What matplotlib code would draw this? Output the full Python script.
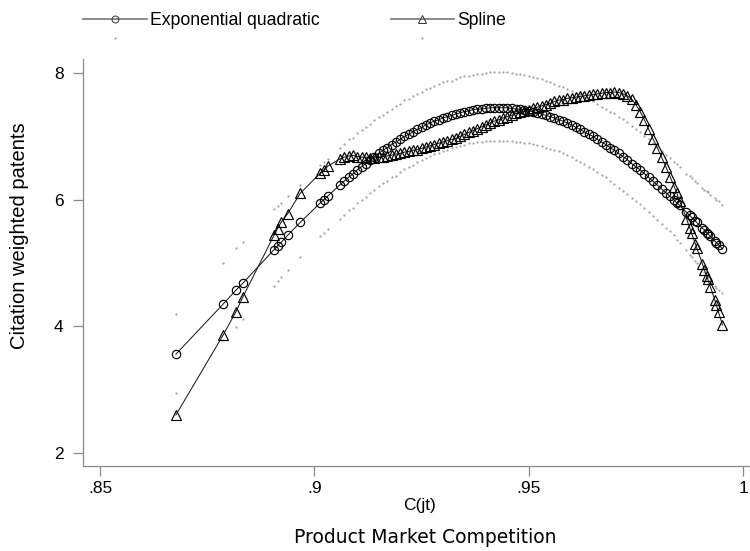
import numpy as np
import matplotlib.pyplot as plt
from matplotlib.lines import Line2D

# product market competition C(jt) at each observation
c_jt = [0.8677, 0.8787, 0.8817, 0.8833, 0.8906, 0.8914, 0.8923, 0.8938,
        0.8967, 0.9014, 0.9022, 0.9032, 0.9059, 0.9069, 0.9081, 0.9089,
        0.910, 0.911, 0.912, 0.913, 0.914, 0.915, 0.916, 0.917, 0.918, 0.919,
        0.920, 0.921, 0.922, 0.923, 0.924, 0.925, 0.926, 0.927, 0.928, 0.929,
        0.930, 0.931, 0.932, 0.933, 0.934, 0.935, 0.936, 0.937, 0.938, 0.939,
        0.940, 0.941, 0.942, 0.943, 0.944, 0.945, 0.946, 0.947, 0.948, 0.949,
        0.950, 0.951, 0.952, 0.953, 0.954, 0.955, 0.956, 0.957, 0.958, 0.959,
        0.960, 0.961, 0.962, 0.963, 0.964, 0.965, 0.966, 0.967, 0.968, 0.969,
        0.970, 0.971, 0.972, 0.973, 0.974, 0.975, 0.976, 0.977, 0.978, 0.979,
        0.980, 0.981, 0.982, 0.983, 0.984,
        0.9845, 0.9852, 0.9868, 0.9876, 0.9880, 0.9889, 0.9892, 0.9905,
        0.9910, 0.9915, 0.9918, 0.9924, 0.9934, 0.9938, 0.9943, 0.9952]

# fitted citation weighted patents, exponential quadratic
exp_quad = [3.56, 4.35, 4.57, 4.68, 5.21, 5.27, 5.33, 5.44,
            5.64, 5.95, 6.00, 6.06, 6.23, 6.29, 6.36, 6.40,
            6.47, 6.52, 6.57, 6.63, 6.68, 6.73, 6.78, 6.82, 6.87, 6.91,
            6.95, 7.00, 7.03, 7.07, 7.11, 7.14, 7.18, 7.21, 7.24, 7.26,
            7.29, 7.31, 7.33, 7.35, 7.37, 7.39, 7.40, 7.42, 7.43, 7.43,
            7.44, 7.45, 7.45, 7.45, 7.45, 7.45, 7.44, 7.43, 7.43, 7.42,
            7.40, 7.39, 7.37, 7.35, 7.33, 7.31, 7.29, 7.26, 7.24, 7.21,
            7.18, 7.14, 7.11, 7.07, 7.03, 7.00, 6.95, 6.91, 6.87, 6.82,
            6.78, 6.73, 6.68, 6.63, 6.57, 6.52, 6.47, 6.41, 6.35, 6.29,
            6.23, 6.17, 6.11, 6.05, 5.99,
            5.95, 5.91, 5.80, 5.75, 5.72, 5.66, 5.64, 5.55,
            5.52, 5.48, 5.46, 5.42, 5.35, 5.32, 5.29, 5.22]

# fitted values, spline
spline = [2.60, 3.86, 4.23, 4.46, 5.44, 5.54, 5.65, 5.78,
          6.10, 6.42, 6.46, 6.53, 6.64, 6.67, 6.69, 6.70,
          6.68, 6.67, 6.67, 6.66, 6.66, 6.67, 6.68, 6.69, 6.70, 6.72,
          6.73, 6.75, 6.76, 6.78, 6.79, 6.81, 6.83, 6.85, 6.87, 6.89,
          6.91, 6.93, 6.95, 6.97, 7.00, 7.03, 7.06, 7.09, 7.12, 7.15,
          7.18, 7.21, 7.24, 7.26, 7.29, 7.31, 7.33, 7.36, 7.38, 7.40,
          7.42, 7.44, 7.46, 7.48, 7.50, 7.52, 7.55, 7.57, 7.58, 7.60,
          7.61, 7.62, 7.63, 7.64, 7.65, 7.66, 7.67, 7.68, 7.69, 7.69,
          7.70, 7.69, 7.67, 7.64, 7.59, 7.50, 7.39, 7.26, 7.11, 6.96,
          6.82, 6.67, 6.52, 6.36, 6.20,
          6.11, 5.98, 5.70, 5.55, 5.47, 5.30, 5.24, 4.99,
          4.89, 4.80, 4.74, 4.62, 4.42, 4.33, 4.22, 4.02]

# 95% band around the exponential quadratic fit
ci_upper = [4.19, 5.00, 5.23, 5.33, 5.85, 5.90, 5.95, 6.05,
            6.23, 6.54, 6.59, 6.64, 6.82, 6.88, 6.95, 6.98,
            7.05, 7.10, 7.15, 7.20, 7.25, 7.30, 7.34, 7.39, 7.43, 7.48,
            7.51, 7.57, 7.59, 7.64, 7.67, 7.70, 7.74, 7.77, 7.80, 7.82,
            7.85, 7.87, 7.88, 7.91, 7.93, 7.95, 7.95, 7.97, 7.99, 7.99,
            8.00, 8.01, 8.01, 8.01, 8.01, 8.01, 8.00, 7.99, 7.99, 7.97,
            7.95, 7.94, 7.92, 7.90, 7.88, 7.86, 7.83, 7.80, 7.78, 7.75,
            7.72, 7.69, 7.66, 7.62, 7.59, 7.56, 7.51, 7.47, 7.43, 7.39,
            7.36, 7.31, 7.27, 7.22, 7.16, 7.11, 7.06, 7.01, 6.95, 6.89,
            6.83, 6.77, 6.71, 6.65, 6.59,
            6.56, 6.52, 6.41, 6.37, 6.34, 6.29, 6.27, 6.19,
            6.16, 6.13, 6.12, 6.08, 6.02, 6.00, 5.98, 5.92]

ci_lower = [2.94, 3.78, 3.99, 4.11, 4.64, 4.71, 4.78, 4.89,
            5.10, 5.42, 5.47, 5.53, 5.69, 5.75, 5.83, 5.87,
            5.94, 5.99, 6.04, 6.10, 6.15, 6.21, 6.26, 6.30, 6.35, 6.38,
            6.43, 6.48, 6.51, 6.55, 6.59, 6.62, 6.66, 6.69, 6.72, 6.74,
            6.77, 6.79, 6.81, 6.83, 6.85, 6.87, 6.89, 6.90, 6.91, 6.91,
            6.92, 6.93, 6.93, 6.93, 6.93, 6.93, 6.92, 6.91, 6.91, 6.90,
            6.89, 6.88, 6.86, 6.84, 6.82, 6.80, 6.78, 6.76, 6.74, 6.71,
            6.67, 6.63, 6.60, 6.56, 6.52, 6.48, 6.44, 6.39, 6.35, 6.30,
            6.25, 6.19, 6.14, 6.09, 6.03, 5.98, 5.93, 5.87, 5.80, 5.74,
            5.68, 5.62, 5.56, 5.50, 5.44,
            5.36, 5.31, 5.20, 5.13, 5.10, 5.03, 5.00, 4.90,
            4.86, 4.81, 4.78, 4.72, 4.64, 4.60, 4.57, 4.52]

x_ticks = [0.85, 0.9, 0.95, 1.0]
x_ticklabels = ['.85', '.9', '.95', '1']
y_ticks = [2, 4, 6, 8]

plt.rcParams['font.family'] = ['Liberation Sans', 'DejaVu Sans']

fig = plt.figure(figsize=(7.5, 5.51), dpi=100)
ax = fig.add_axes([0.1107, 0.1543, 0.8893, 0.7387])

band_style = dict(linestyle='none', marker='.', markersize=1.2, color='#a0a0a0')
ax.plot(c_jt, ci_upper, **band_style)
ax.plot(c_jt, ci_lower, **band_style)

ax.plot(c_jt, spline, color='#111111', linewidth=0.7, marker='^', markersize=6.5,
        markerfacecolor='none', markeredgecolor='black', markeredgewidth=0.85)
ax.plot(c_jt, exp_quad, color='#111111', linewidth=0.7, marker='o', markersize=6,
        markerfacecolor='none', markeredgecolor='black', markeredgewidth=0.85)

ax.set_xlim(0.84603, 1.00163)
ax.set_ylim(1.795, 8.221)
ax.set_xticks(x_ticks)
ax.set_xticklabels(x_ticklabels)
ax.set_yticks(y_ticks)

for side in ['top', 'right']:
    ax.spines[side].set_visible(False)
for side in ['left', 'bottom']:
    ax.spines[side].set_color('#8a8a8a')
    ax.spines[side].set_linewidth(0.9)
ax.tick_params(axis='both', direction='out', length=7, width=0.9, color='#8a8a8a',
               labelsize=12.5, labelcolor='black')
ax.tick_params(axis='y', pad=7)
ax.tick_params(axis='x', pad=4)

ax.set_xlabel('C(jt)', fontsize=12.5, va='center')
ax.xaxis.set_label_coords(0.505, -0.096)
ax.set_ylabel('Citation weighted patents', fontsize=14.5, va='center')
ax.yaxis.set_label_coords(-0.0945, 0.565)

fig.text(0.567, 0.0236, 'Product Market Competition', fontsize=13.5,
         family='DejaVu Sans', ha='center', va='center')

# legend: two fit lines, with the band symbols beneath them
h_exp = Line2D([], [], color='#777777', linewidth=1.2, marker='o', markersize=5,
               markerfacecolor='none', markeredgecolor='#333333', markeredgewidth=0.7)
h_spl = Line2D([], [], color='#777777', linewidth=1.2, marker='^', markersize=5.5,
               markerfacecolor='none', markeredgecolor='#333333', markeredgewidth=0.7)
h_band = Line2D([], [], **band_style)
fig.legend([h_exp, h_band, h_spl, h_band],
           ['Exponential quadratic', ' ', 'Spline', ' '],
           ncol=2, loc='upper left', bbox_to_anchor=(0.111, 0.978),
           frameon=False, fontsize=12.7, handlelength=3.6, handletextpad=0.2,
           columnspacing=4.0, borderpad=0, borderaxespad=0, labelspacing=0.1)

fig.savefig('out.png', dpi=100)
